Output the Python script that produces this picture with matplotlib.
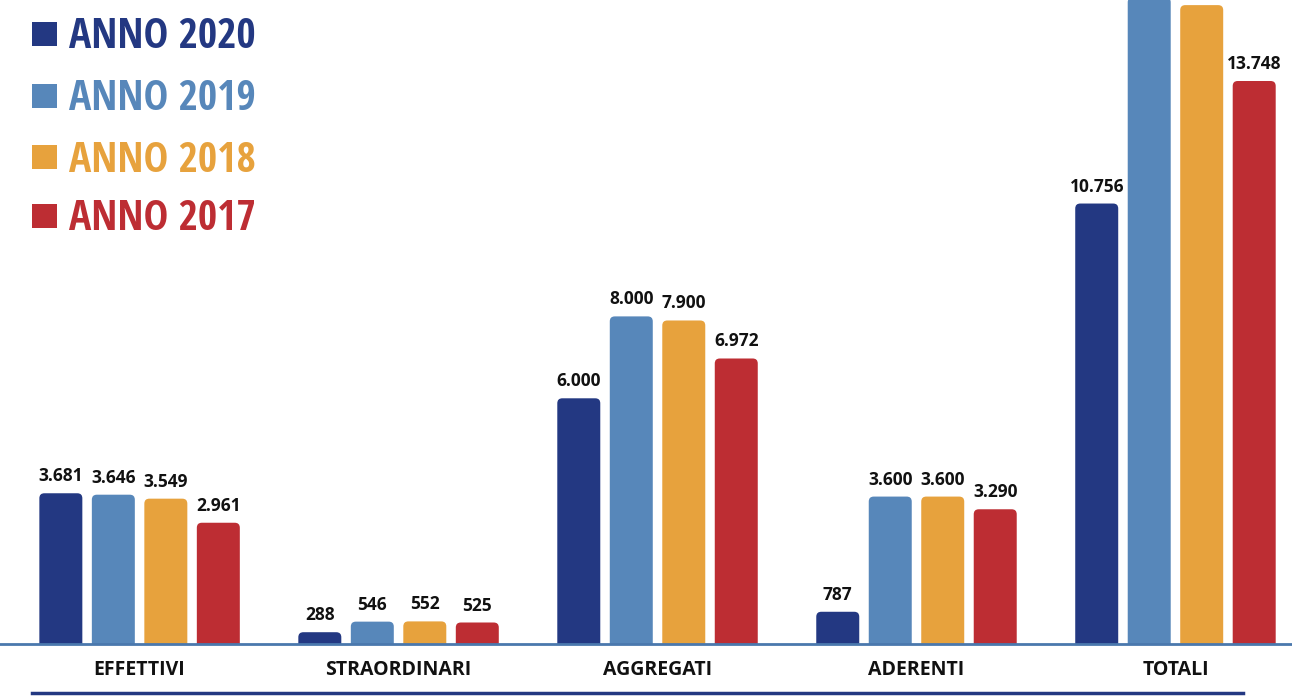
import matplotlib; matplotlib.use("Agg")
import matplotlib.pyplot as plt
from matplotlib.patches import FancyBboxPatch, Rectangle
from matplotlib import font_manager as fm

# ---- data ----
categories = ["EFFETTIVI", "STRAORDINARI", "AGGREGATI", "ADERENTI", "TOTALI"]
years = ["ANNO 2020", "ANNO 2019", "ANNO 2018", "ANNO 2017"]
v2020 = [3681, 288, 6000, 787, 10756]
v2019 = [3646, 546, 8000, 3600, 15792]
v2018 = [3549, 552, 7900, 3600, 15601]
v2017 = [2961, 525, 6972, 3290, 13748]
series = [v2020, v2019, v2018, v2017]
colors = ["#233882", "#5787ba", "#e7a23d", "#bd2d33"]

names = {f.name for f in fm.fontManager.ttflist}
LEG_FONT, LEG_SIZE = "Open Sans", 25
for cand, size in [("Open Sans Condensed", 30), ("Roboto Condensed", 29),
                   ("Liberation Sans Narrow", 30), ("DejaVu Sans Condensed", 26)]:
    if cand in names:
        LEG_FONT, LEG_SIZE = cand, size
        break
LAB_FONT = ["Open Sans", "DejaVu Sans"]

def fmt(v):
    return f"{v:,}".replace(",", ".")

W, H = 1292, 697
fig = plt.figure(figsize=(W/100, H/100), dpi=100)
ax = fig.add_axes([0, (H-644)/H, 1, 644/H])
ax.set_xlim(-0.539, 4.45)
ax.set_ylim(0, 15726)
ax.axis("off")

bw, step = 0.166, 0.2027
xpx = (4.45 + 0.539) / W
ypx = 15726 / 644
aspect = ypx / xpx
r = 5 * xpx
for si, (vals, col) in enumerate(zip(series, colors)):
    for ci, v in enumerate(vals):
        x = ci + (si - 1.5) * step - bw / 2
        p = FancyBboxPatch((x, -20 * ypx), bw, v + 20 * ypx,
                           boxstyle=f"round,pad=0,rounding_size={r}",
                           mutation_aspect=aspect, fc=col, ec="none", clip_on=True)
        ax.add_patch(p)
        if v < 15726 - 25 * ypx:
            ax.text(x + bw / 2, v + 8 * ypx, fmt(v), ha="center", va="bottom",
                    fontsize=12.5, fontweight="bold", family=LAB_FONT, color="#111111")

# baseline
ax.axhline(0, color="#4a78ad", lw=2, clip_on=False, zorder=5)

# category labels
for ci, c in enumerate(categories):
    fig.text((ci + 0.539) / (4.45 + 0.539), 1 - 670 / H, c, ha="center", va="center",
             fontsize=14, fontweight="bold", family=LAB_FONT, color="#111111")

# bottom rule
fig.add_artist(plt.Line2D([32 / W, 1243 / W], [1 - 693 / H] * 2, color="#233882", lw=2.5))

# legend
leg_y = [34, 96, 157, 216]
for yy, lab, col in zip(leg_y, years, colors):
    fig.add_artist(Rectangle((32 / W, 1 - (yy + 12) / H), 25 / W, 24 / H,
                             transform=fig.transFigure, fc=col, ec="none"))
    fig.text(69 / W, 1 - (yy - 1) / H, lab, ha="left", va="center_baseline", fontsize=LEG_SIZE,
             fontweight="bold", family=[LEG_FONT, "DejaVu Sans"], color=col)

fig.savefig("out.png", dpi=100)
